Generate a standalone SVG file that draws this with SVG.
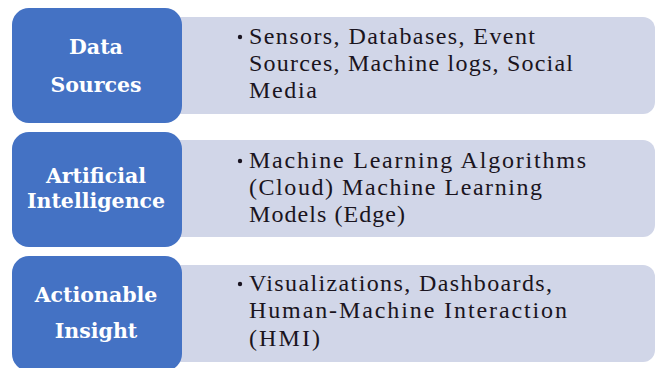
<svg xmlns="http://www.w3.org/2000/svg" width="656" height="368" viewBox="0 0 656 368">
<style>
.lt{fill:#D1D6E8}
.bl{fill:#4472C4}
.h{font-family:"DejaVu Serif","Liberation Serif",serif;font-weight:bold;font-size:20.5px;fill:#fff;text-anchor:middle}
.b{font-family:"Liberation Serif",serif;font-size:24px;fill:#1a1420}
.d{fill:#1a1420}
</style>
<rect width="656" height="368" fill="#fff"/>
<g id="row1">
<rect class="lt" x="160" y="17" width="495" height="97" rx="12"/>
<rect class="bl" x="12" y="8" width="170" height="115" rx="17"/>
<text class="h" x="96" y="54">Data</text>
<text class="h" x="96" y="92">Sources</text>
<circle class="d" cx="240" cy="37" r="2.2"/>
<text class="b" x="249" y="44" textLength="286">Sensors, Databases, Event</text>
<text class="b" x="249" y="71" textLength="324">Sources, Machine logs, Social</text>
<text class="b" x="249" y="98" textLength="68">Media</text>
</g>
<g id="row2">
<rect class="lt" x="160" y="140" width="495" height="97" rx="12"/>
<rect class="bl" x="12" y="132" width="170" height="115" rx="17"/>
<text class="h" x="96" y="183">Artificial</text>
<text class="h" x="96" y="208">Intelligence</text>
<circle class="d" cx="240" cy="161" r="2.2"/>
<text class="b" x="249" y="168" textLength="337">Machine Learning Algorithms</text>
<text class="b" x="249" y="195" textLength="293">(Cloud) Machine Learning</text>
<text class="b" x="249" y="222" textLength="156">Models (Edge)</text>
</g>
<g id="row3">
<rect class="lt" x="160" y="265" width="495" height="97" rx="12"/>
<rect class="bl" x="12" y="256" width="170" height="115" rx="17"/>
<text class="h" x="96" y="302">Actionable</text>
<text class="h" x="96" y="338">Insight</text>
<circle class="d" cx="240" cy="284" r="2.2"/>
<text class="b" x="249" y="291" textLength="303">Visualizations, Dashboards,</text>
<text class="b" x="249" y="318" textLength="318">Human-Machine Interaction</text>
<text class="b" x="249" y="346" textLength="71">(HMI)</text>
</g>
<g id="connectors"/>
</svg>
